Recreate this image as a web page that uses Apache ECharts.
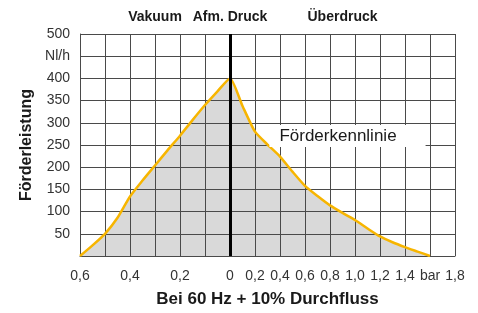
<!DOCTYPE html>
<html>
<head>
<meta charset="utf-8">
<script src="https://cdn.jsdelivr.net/npm/echarts@6/dist/echarts.min.js"></script>
<style>
  html, body { margin: 0; padding: 0; background: #fff; }
  #chart { width: 478px; height: 313px; }
</style>
</head>
<body>
<div id="chart"></div>
<script>
// Druck in bar (negativ = Vakuum), Förderleistung in Nl/h
const pressureBar = [-0.6, -0.55, -0.5, -0.45, -0.4, -0.35, -0.3, -0.25, -0.2, -0.15, -0.1, -0.05, 0,
  0.1, 0.2, 0.3, 0.4, 0.5, 0.6, 0.7, 0.8, 0.9, 1.0, 1.1, 1.2, 1.3, 1.4, 1.5, 1.6]
const flow = [0, 24, 50, 86, 134, 170, 204, 238, 271, 306, 340, 371, 400,
  338, 280, 251, 224, 190, 158, 135, 114, 97, 81, 62, 44, 31, 20, 10, 0]
const xTickLabels = ['0,6', '', '0,4', '', '0,2', '', '0', '0,2', '0,4', '0,6', '0,8', '1,0', '1,2', '1,4', 'bar', '1,8']
const topLabels = ['Vakuum', 'Afm. Druck', 'Überdruck']
const topLabelAt = [-0.3, 0, 0.9]
const curveName = 'Förderkennlinie'

// Vakuum: 0,1 bar je Kästchen, Überdruck: 0,2 bar je Kästchen
const toAxis = (p) => p < 0 ? 6 + p * 10 : 6 + p * 5
const points = pressureBar.map((p, i) => [toAxis(p), flow[i]])

const chart = echarts.init(document.getElementById('chart'))
const txt = '#1a1a1a'
const gridColor = '#4a4a4a'

chart.setOption({
  animation: false,
  grid: { left: 80, right: 23, top: 34, bottom: 52 },
  xAxis: {
    type: 'value', min: 0, max: 15, interval: 1, z: 2,
    name: 'Bei 60 Hz + 10% Durchfluss',
    nameLocation: 'middle', nameGap: 35,
    nameTextStyle: { fontFamily: 'Liberation Sans', fontWeight: 'bold', fontSize: 17, color: txt },
    axisLine: { show: true, lineStyle: { color: gridColor } },
    axisTick: { show: false },
    axisLabel: {
      margin: 13, fontFamily: 'Liberation Sans', fontSize: 14, color: '#333',
      formatter: (v) => xTickLabels[Math.round(v)] || ''
    },
    splitLine: { show: true, lineStyle: { color: gridColor, width: 1 } }
  },
  yAxis: {
    type: 'value', min: 0, max: 500, interval: 50, z: 2,
    name: 'Förderleistung',
    nameLocation: 'middle', nameGap: 44,
    nameTextStyle: { fontFamily: 'Liberation Sans', fontWeight: 'bold', fontSize: 16, color: txt },
    axisLine: { show: true, lineStyle: { color: gridColor } },
    axisTick: { show: false },
    axisLabel: {
      margin: 10, fontFamily: 'Liberation Sans', fontSize: 14, color: '#333',
      formatter: (v) => v === 0 ? '' : (v === 450 ? 'Nl/h' : String(v))
    },
    splitLine: { show: true, lineStyle: { color: gridColor, width: 1 } }
  },
  series: [{
    // Fläche unter der Kurve, hinter dem Gitter
    type: 'line',
    data: points,
    showSymbol: false,
    smooth: 0.2,
    lineStyle: { width: 0 },
    areaStyle: { color: '#d9d9d9', opacity: 1 },
    z: 1
  }, {
    type: 'line',
    data: points,
    showSymbol: false,
    smooth: 0.2,
    lineStyle: { color: '#f7b500', width: 2.5 },
    z: 4,
    markLine: {
      silent: true, symbol: 'none', label: { show: false },
      lineStyle: { color: '#000', width: 3, type: 'solid' },
      data: [{ xAxis: toAxis(0) }]
    }
  }]
})

// Beschriftungen oben und Kurvenname
const topY = 17
const labelPos = chart.convertToPixel({ gridIndex: 0 }, [toAxis(0.94), 270])
chart.setOption({
  graphic: topLabels.map((t, i) => ({
    type: 'text',
    x: chart.convertToPixel({ gridIndex: 0 }, [toAxis(topLabelAt[i]), 0])[0],
    y: topY,
    style: {
      text: t, fontFamily: 'Liberation Sans', fontWeight: 'bold', fontSize: 14,
      fill: txt, align: 'center', verticalAlign: 'middle'
    }
  })).concat([{
    type: 'text',
    x: labelPos[0],
    y: labelPos[1],
    z: 10,
    style: {
      text: curveName, fontFamily: 'Liberation Sans', fontSize: 17, fill: txt,
      align: 'center', verticalAlign: 'middle',
      backgroundColor: '#fff', padding: [3, 29, 2, 10]
    }
  }])
})
</script>
</body>
</html>
